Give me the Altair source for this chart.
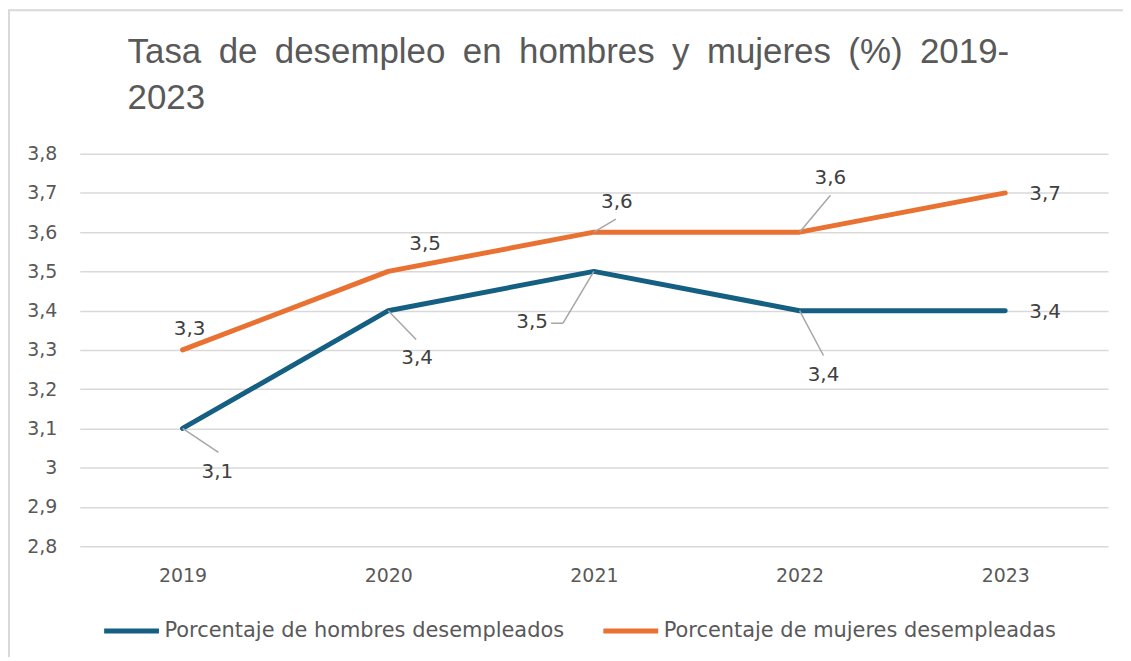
import altair as alt
import pandas as pd

years = [2019, 2020, 2021, 2022, 2023]
hombres = [3.1, 3.4, 3.5, 3.4, 3.4]
mujeres = [3.3, 3.5, 3.6, 3.6, 3.7]
series_names = ["Porcentaje de hombres desempleados", "Porcentaje de mujeres desempleadas"]
colors = ["#156082", "#E97132"]
title_lines = ["Tasa de desempleo en hombres y mujeres (%) 2019-", "2023"]
y_ticks = [2.8, 2.9, 3.0, 3.1, 3.2, 3.3, 3.4, 3.5, 3.6, 3.7, 3.8]

# label placement offsets in pixels (dx, dy down) -- styling only
lab_off_h = [(35, 44), (29, 48), (-62, 51), (24, 65), (40, 1)]
lab_off_m = [(7, -21), (37, -27), (23, -30), (31, -54), (40, 1)]
# leader segments (series index, year index, start offset px, end offset px)
leaders = [
    (0, 0, (0, 0), (36, 24)),
    (0, 1, (0, 0), (28, 29)),
    (0, 2, (0, 0), (-31, 52)),
    (0, 2, (-31, 52), (-43, 52)),
    (0, 3, (0, 0), (24, 45)),
    (1, 2, (0, 0), (22, -13)),
    (1, 3, (0, 0), (31, -37)),
]

W, H = 1032, 394
XMIN, XMAX = 2018.5, 2023.5
YMIN, YMAX = 2.8, 3.8
XPX = W / (XMAX - XMIN)
YPX = H / (YMAX - YMIN)

rows = []
for name, vals, offs in [(series_names[0], hombres, lab_off_h), (series_names[1], mujeres, lab_off_m)]:
    for y, v, (dx, dy) in zip(years, vals, offs):
        rows.append({
            "year": y, "value": v, "serie": name,
            "lx": y + dx / XPX, "ly": v - dy / YPX,
            "lab": f"{v:.1f}".replace(".", ","),
        })
df = pd.DataFrame(rows)

lrows = []
for si, yi, (sx, sy), (ex, ey) in leaders:
    v = (hombres, mujeres)[si][yi]
    yr = years[yi]
    lrows.append({"x": yr + sx / XPX, "y": v - sy / YPX, "x2": yr + ex / XPX, "y2": v - ey / YPX})
ldf = pd.DataFrame(lrows)

one = pd.DataFrame({"k": [0]})

FONT = "DejaVu Sans"
TFONT = "Liberation Sans"

xs = alt.Scale(domain=[XMIN, XMAX], nice=False, zero=False)
ys = alt.Scale(domain=[YMIN, YMAX], nice=False, zero=False)

xaxis = alt.Axis(values=years, format="d", grid=False, ticks=False, domain=False,
                 labelFontSize=19, labelColor="#595959", labelPadding=20, labelFont=FONT)
yaxis = alt.Axis(values=y_ticks,
                 labelExpr="replace(format(datum.value, '~g'), '.', ',')",
                 labelOverlap=False,
                 grid=True, gridColor="#D9D9D9", gridWidth=1.5, ticks=False, domain=False,
                 labelFontSize=19, labelColor="#595959", labelPadding=23, labelFont=FONT)

lines = alt.Chart(df).mark_line(strokeWidth=5, strokeCap="round", strokeJoin="round").encode(
    x=alt.X("year:Q", scale=xs, title=None, axis=xaxis),
    y=alt.Y("value:Q", scale=ys, title=None, axis=yaxis),
    color=alt.Color("serie:N", scale=alt.Scale(domain=series_names, range=colors),
                    legend=alt.Legend(title=None, orient="none", direction="horizontal",
                                      legendX=22, legendY=449, symbolType="stroke",
                                      symbolSize=3025, symbolStrokeWidth=5, labelFontSize=21,
                                      labelColor="#595959", labelFont=FONT, columnPadding=28,
                                      labelOffset=3, padding=0, labelLimit=0)),
)

leader_rules = alt.Chart(ldf).mark_rule(color="#A6A6A6", strokeWidth=1.5).encode(
    x=alt.X("x:Q", scale=xs, title=None, axis=xaxis),
    y=alt.Y("y:Q", scale=ys, title=None, axis=yaxis),
    x2="x2:Q", y2="y2:Q",
)

labels = alt.Chart(df).mark_text(fontSize=20, color="#404040", font=FONT,
                                 align="center", baseline="middle").encode(
    x=alt.X("lx:Q", scale=xs, title=None, axis=xaxis),
    y=alt.Y("ly:Q", scale=ys, title=None, axis=yaxis),
    text="lab:N",
)

title_text = "\n".join(line.replace(" ", "\u2002") for line in title_lines)
title = alt.Chart(one).mark_text(align="left", baseline="alphabetic", fontSize=35,
                                 color="#595959", font=TFONT, lineBreak="\n",
                                 lineHeight=46).encode(
    x=alt.value(48), y=alt.value(-91), text=alt.value(title_text),
)

frame_top = alt.Chart(one).mark_rule(color="#D9D9D9", strokeWidth=2).encode(
    x=alt.value(-72), x2=alt.value(1060), y=alt.value(-144),
)
frame_left = alt.Chart(one).mark_rule(color="#D9D9D9", strokeWidth=2).encode(
    x=alt.value(-71), y=alt.value(-145), y2=alt.value(520),
)

chart = alt.layer(frame_top, frame_left, lines, leader_rules, labels, title).properties(
    width=W, height=H,
    padding={"left": 72, "top": 145, "right": 15, "bottom": 110},
    autosize=alt.AutoSizeParams(type="none"),
).configure_view(stroke=None)

chart.save("out.html", embed_options={"renderer": "svg", "actions": False})
